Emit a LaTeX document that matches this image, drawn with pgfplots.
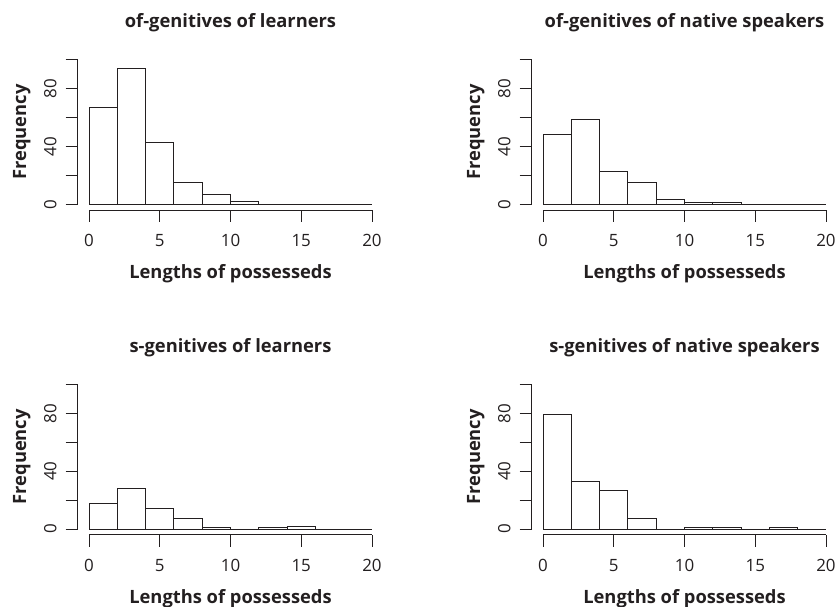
\documentclass[border=0pt]{standalone}
\usepackage{pgfplots}
\pgfplotsset{compat=1.18}
\usepackage{fontspec}
\setmainfont{Open Sans}
\definecolor{ink}{HTML}{231F20}

% R-style histogram panel: offset axes, outward ticks, bins of width 2 on [0,20]
\pgfplotsset{
  rhist/.style={
    scale only axis, width=305.6bp, height=156bp,
    xmin=-0.8, xmax=20.8, ymin=-4, ymax=104,
    clip=false,
    axis line style={draw=none},
    tickpos=left, tick align=outside,
    major tick length=12bp,
    tick style={ink, line width=0.9bp},
    xtick={0,5,10,15,20},
    ytick={0,20,40,60,80,100},
    yticklabels={0,,40,,80,},
    /pgf/number format/assume math mode=true,
    ticklabel style={font=\fontsize{17}{19}\selectfont, text=ink},
    xticklabel style={anchor=base, yshift=-24.9bp},
    yticklabel style={anchor=base, xshift=-9.4bp, rotate=90},
    % the default title style adds yshift=6pt; cancel it
    title style={at={(axis description cs:0.5,1.168)}, anchor=base, yshift=-6pt,
      font=\bfseries\fontsize{18.4}{20}\selectfont, text=ink},
    xlabel={Lengths of possesseds},
    ylabel={Frequency},
    xlabel style={at={(axis description cs:0.5,-0.44)}, anchor=base,
      font=\bfseries\fontsize{18.4}{20}\selectfont, text=ink},
    ylabel style={at={(axis description cs:-0.169,0.5)}, anchor=base,
      font=\bfseries\fontsize{18.4}{20}\selectfont, text=ink},
  },
  bars/.style={ybar interval, draw=ink, fill=white, line width=0.9bp},
}
\newcommand{\raxes}{%
  \draw[ink, line width=0.9bp] (axis cs:0,-4) -- (axis cs:20,-4);
  \draw[ink, line width=0.9bp] (axis cs:-0.8,0) -- (axis cs:-0.8,100);
}

\begin{document}
\begin{tikzpicture}
\useasboundingbox (0bp,0bp) rectangle (837bp,607bp);

\begin{axis}[rhist, at={(77.7bp,397bp)}, anchor=south west,
  title={of-genitives of learners}]
  \addplot[bars] coordinates {(0,67) (2,94) (4,43) (6,15) (8,7) (10,2)
    (12,0) (14,0) (16,0) (18,0) (20,0)};
  \raxes
\end{axis}

\begin{axis}[rhist, at={(531.7bp,397bp)}, anchor=south west,
  title={of-genitives of native speakers}]
  \addplot[bars] coordinates {(0,48) (2,59) (4,23) (6,15) (8,3) (10,1)
    (12,1) (14,0) (16,0) (18,0) (20,0)};
  \raxes
\end{axis}

\begin{axis}[rhist, at={(77.7bp,72.2bp)}, anchor=south west,
  title={s-genitives of learners}]
  \addplot[bars] coordinates {(0,18) (2,28) (4,14) (6,7) (8,1) (10,0)
    (12,1) (14,2) (16,0) (18,0) (20,0)};
  \raxes
\end{axis}

\begin{axis}[rhist, at={(531.7bp,72.2bp)}, anchor=south west,
  title={s-genitives of native speakers}]
  \addplot[bars] coordinates {(0,79) (2,33) (4,27) (6,7) (8,0) (10,1)
    (12,1) (14,0) (16,1) (18,0) (20,0)};
  \raxes
\end{axis}
\end{tikzpicture}
\end{document}
